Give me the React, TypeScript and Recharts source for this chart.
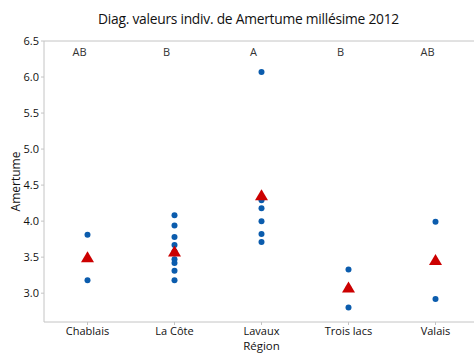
import React from 'react';
import { ScatterChart, Scatter, XAxis, YAxis, ReferenceLine } from 'recharts';

const regions = ['Chablais', 'La Côte', 'Lavaux', 'Trois lacs', 'Valais'];
const chablaisValues = [3.81, 3.18];
const laCoteValues = [4.08, 3.94, 3.78, 3.67, 3.58, 3.47, 3.42, 3.31, 3.18];
const lavauxValues = [6.07, 4.29, 4.18, 4.0, 3.82, 3.71];
const troisLacsValues = [3.33, 3.07, 2.8];
const valaisValues = [3.99, 2.92];
const meanValues = [3.5, 3.58, 4.36, 3.08, 3.46];
const groupLetters = ['AB', 'B', 'A', 'B', 'AB'];
const letterLevel = 6.35;
const yTicks = [3.0, 3.5, 4.0, 4.5, 5.0, 5.5, 6.0, 6.5];

const groups = [chablaisValues, laCoteValues, lavauxValues, troisLacsValues, valaisValues];
const pointData = groups.flatMap((vals, i) => vals.map((v) => ({ x: i, y: v })));
const meanData = meanValues.map((v, i) => ({ x: i, y: v }));
const letterData = groupLetters.map((l, i) => ({ x: i, y: letterLevel, label: l }));

const FONT = '"Open Sans", "Noto Sans", sans-serif';

const Dot = (p: any) => <circle cx={p.cx} cy={p.cy} r={3} fill="#0b5cad" />;
const Tri = (p: any) => (
  <polygon
    points={`${p.cx},${p.cy - 6} ${p.cx + 6.5},${p.cy + 5} ${p.cx - 6.5},${p.cy + 5}`}
    fill="#cc0000"
  />
);
const Letter = (p: any) => (
  <text x={p.cx - 8} y={p.cy} textAnchor="middle" dominantBaseline="central" fontSize={11} fill="#333" fontFamily={FONT}>
    {p.payload.label}
  </text>
);

export default function App() {
  return (
    <div style={{ position: 'absolute', left: 0, top: 0, width: 474, height: 353, overflow: 'hidden', background: '#fff' }}>
      <div
        style={{
          position: 'absolute',
          top: 9,
          left: 0,
          width: 497,
          textAlign: 'center',
          fontFamily: FONT,
          fontSize: 13.8,
          letterSpacing: -0.25,
          color: '#111',
        }}
      >
        Diag. valeurs indiv. de Amertume millésime 2012
      </div>
      <ScatterChart width={480} height={353} margin={{ top: 41, right: 1, bottom: 0, left: 0 }}>
        <XAxis
          type="number"
          dataKey="x"
          domain={[-0.5, 4.5]}
          ticks={[0, 1, 2, 3, 4]}
          tickFormatter={(i: number) => regions[i]}
          height={31}
          stroke="#c4c4c4"
          tickSize={3}
          tickMargin={2}
          tick={{ fill: '#111', fontSize: 11, fontFamily: FONT }}
          label={{ value: 'Région', position: 'insideBottom', offset: 3.5, fill: '#111', fontSize: 11.5, fontFamily: FONT }}
          allowDataOverflow
        />
        <YAxis
          type="number"
          dataKey="y"
          domain={[2.6, 6.5]}
          ticks={yTicks}
          tickFormatter={(v: number) => v.toFixed(1)}
          width={44}
          stroke="#c4c4c4"
          tickSize={3}
          tickMargin={2}
          tick={{ fill: '#111', fontSize: 11, fontFamily: FONT }}
          allowDataOverflow
          label={{
            content: (props: any) => {
              const vb = props.viewBox;
              const cy = vb.y + vb.height / 2;
              return (
                <text x={15} y={cy} transform={`rotate(-90 15 ${cy})`} textAnchor="middle" dominantBaseline="central" fontSize={12} fill="#111" fontFamily={FONT}>
                  Amertume
                </text>
              );
            },
          }}
        />
        <ReferenceLine y={6.5} stroke="#c4c4c4" />
        <Scatter data={pointData} shape={Dot} isAnimationActive={false} />
        <Scatter data={meanData} shape={Tri} isAnimationActive={false} />
        <Scatter data={letterData} shape={Letter} isAnimationActive={false} />
      </ScatterChart>
    </div>
  );
}
